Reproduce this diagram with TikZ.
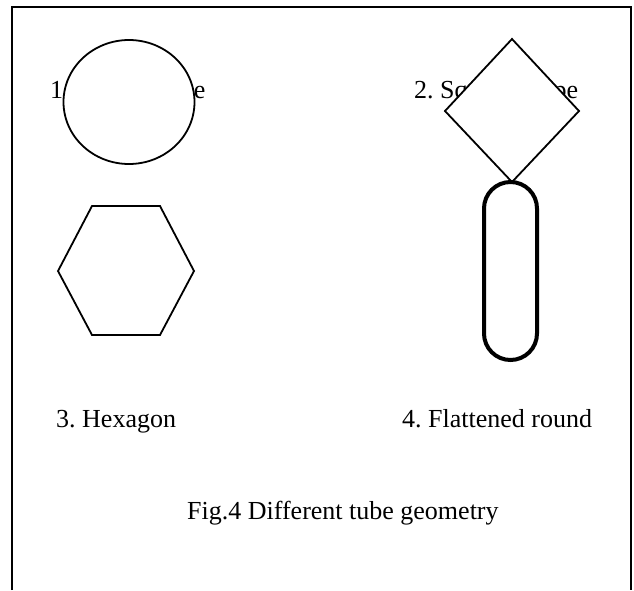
\documentclass[tikz,border=0pt]{standalone}
\usepackage{fontspec}
\setmainfont{Liberation Serif}
\usetikzlibrary{positioning}
\frenchspacing

\begin{document}
\begin{tikzpicture}[
        x=1pt, y=-1pt,
        label/.style={anchor=base west, inner sep=0pt, font=\fontsize{26}{30}\selectfont},
        outline/.style={draw=black, line width=1.8pt, fill=white, line join=miter},
        tube/.style={draw=black, line width=4pt, fill=white}
    ]

    \useasboundingbox (0,0) rectangle (634,590);

    %% ---- Frame (open at the bottom) ----
    \draw[line width=2pt] (12,590) -- (12,7) -- (631,7) -- (631,590);

    %% ---- Labels of the two upper shapes (partly hidden) ----
    \node[label] (circlelabel) at (50,98) {1. Circle shape};
    \node[label] (squarelabel) at (414,98) {2. Square shape};

    %% ---- 1. Circle ----
    \draw[outline] (129,102) ellipse [x radius=65.5, y radius=62];

    %% ---- 2. Square (turned on its corner) ----
    \draw[outline] (512,39) -- (579,111) -- (512,182) -- (445,111) -- cycle;

    %% ---- 3. Hexagon ----
    \draw[outline] (92,206) -- (160,206) -- (194,271) -- (160,335)
        -- (92,335) -- (58,271) -- cycle;

    %% ---- 4. Flattened round ----
    \draw[tube, rounded corners=26.5pt] (484,182) rectangle (537,360);

    %% ---- Labels of the two lower shapes ----
    \node[label] (hexlabel) at (56,427) {3. Hexagon};
    \node[label] (flatlabel) at (402,427) {4. Flattened round};

    %% ---- Caption ----
    \node[label] (caption) at (187,519) {Fig.4 Different tube geometry};

\end{tikzpicture}
\end{document}
